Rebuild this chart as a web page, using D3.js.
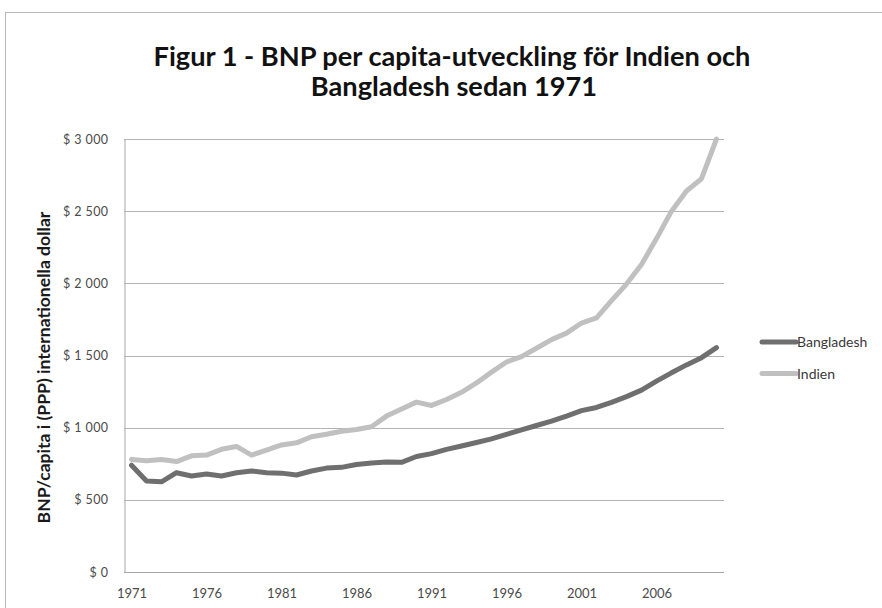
<!DOCTYPE html>
<html>
<head>
<meta charset="utf-8">
<script src="https://cdn.jsdelivr.net/npm/d3@7/dist/d3.min.js"></script>
<style>
  html, body { margin: 0; padding: 0; background: #fff; }
  svg { display: block; }
</style>
</head>
<body>
<svg id="chart" width="882" height="608"></svg>
<script>
// ---- Data ----
const years = [1971,1972,1973,1974,1975,1976,1977,1978,1979,1980,
               1981,1982,1983,1984,1985,1986,1987,1988,1989,1990,
               1991,1992,1993,1994,1995,1996,1997,1998,1999,2000,
               2001,2002,2003,2004,2005,2006,2007,2008,2009,2010];
const bangladesh = [740,630,625,688,665,679,665,688,700,688,
                    685,672,700,720,725,745,755,762,760,800,
                    820,850,873,897,922,953,985,1015,1045,1080,
                    1118,1140,1175,1215,1260,1322,1380,1435,1485,1555];
const indien = [780,770,780,765,805,810,850,870,810,845,
                880,895,937,955,975,987,1006,1080,1130,1177,
                1154,1195,1245,1310,1385,1455,1492,1550,1610,1655,
                1725,1760,1880,1995,2130,2310,2500,2640,2725,3000];
const xTickLabels = [1971,1976,1981,1986,1991,1996,2001,2006];
const yTicks = [0,500,1000,1500,2000,2500,3000];
const seriesNames = ["Bangladesh","Indien"];
const titleLines = ["Figur 1 - BNP per capita-utveckling för Indien och", "Bangladesh sedan 1971"];
const yAxisTitle = "BNP/capita i (PPP) internationella dollar";

// ---- Layout ----
const svg = d3.select("#chart");
const plot = {left:124, right:724, top:139, bottom:572};
const colors = {Bangladesh:"#6f6f6f", Indien:"#c0c0c0"};
const font = "Lato, 'Open Sans', sans-serif";

// chart frame
svg.append("rect").attr("x",5.5).attr("y",12.5).attr("width",900).attr("height",700)
  .attr("fill","#fff").attr("stroke","#b8b8b8").attr("stroke-width",1);

const x = d3.scalePoint().domain(years).range([plot.left, plot.right]).padding(0.5);
const y = d3.scaleLinear().domain([0,3000]).range([plot.bottom, plot.top]);

// gridlines
svg.append("g").selectAll("line").data(yTicks.filter(d=>d>0)).join("line")
  .attr("x1",plot.left).attr("x2",plot.right)
  .attr("y1",d=>Math.round(y(d))+0.5).attr("y2",d=>Math.round(y(d))+0.5)
  .attr("stroke","#b4b4b4").attr("stroke-width",1);

// y axis
const yAxis = svg.append("g").attr("transform",`translate(${plot.left+0.5},0)`)
  .call(d3.axisLeft(y).tickValues(yTicks).tickSize(0).tickPadding(16)
    .tickFormat(d => "$ " + d3.format(",")(d).replace(/,/g," ")));
yAxis.select(".domain").attr("stroke","#a8a8a8");
yAxis.selectAll("text").attr("font-family",font).attr("font-size",12.5)
  .attr("fill","#4a4a4a").attr("letter-spacing",0.4);

// x axis
const xAxis = svg.append("g").attr("transform",`translate(0,${Math.round(plot.bottom)+0.5})`)
  .call(d3.axisBottom(x).tickValues(xTickLabels).tickSize(0).tickPadding(16));
xAxis.select(".domain").attr("stroke","#a8a8a8").attr("d",`M${plot.left},0H${plot.right}`);
xAxis.selectAll("text").attr("font-family",font).attr("font-size",13).attr("fill","#4a4a4a");

// lines
const line = d3.line().x((d,i)=>x(years[i])).y(d=>y(d));
[["Bangladesh",bangladesh],["Indien",indien]].forEach(([name,vals])=>{
  svg.append("path").datum(vals).attr("d",line)
    .attr("fill","none").attr("stroke",colors[name]).attr("stroke-width",5)
    .attr("stroke-linejoin","round").attr("stroke-linecap","round");
});

// legend
const legend = svg.append("g");
seriesNames.forEach((name,i)=>{
  const ly = 342 + i*31.5;
  legend.append("line").attr("x1",762).attr("x2",796).attr("y1",ly).attr("y2",ly)
    .attr("stroke",colors[name]).attr("stroke-width",5).attr("stroke-linecap","round");
  legend.append("text").attr("x",797).attr("y",ly).attr("dy","0.36em")
    .attr("font-family",font).attr("font-size",14).attr("fill","#3a3a3a").text(name);
});

// title
function fit(sel, target){
  const w = sel.node().getComputedTextLength();
  const fs = parseFloat(sel.attr("font-size"));
  sel.attr("font-size", fs*target/w);
}
const t1 = svg.append("text").attr("x",452).attr("y",66).attr("text-anchor","middle")
  .attr("font-family",font).attr("font-weight","bold").attr("font-size",22).attr("fill","#111")
  .text(titleLines[0]);
fit(t1, 597);
const t2 = svg.append("text").attr("x",454).attr("y",96).attr("text-anchor","middle")
  .attr("font-family",font).attr("font-weight","bold").attr("font-size",t1.attr("font-size")).attr("fill","#111")
  .text(titleLines[1]);

// y axis title
const yt = svg.append("text").attr("transform",`translate(50,${(plot.top+plot.bottom)/2+12}) rotate(-90)`)
  .attr("text-anchor","middle").attr("font-family",font).attr("font-weight","bold")
  .attr("font-size",11).attr("fill","#1a1a1a").text(yAxisTitle);
fit(yt, 312);
</script>
</body>
</html>
